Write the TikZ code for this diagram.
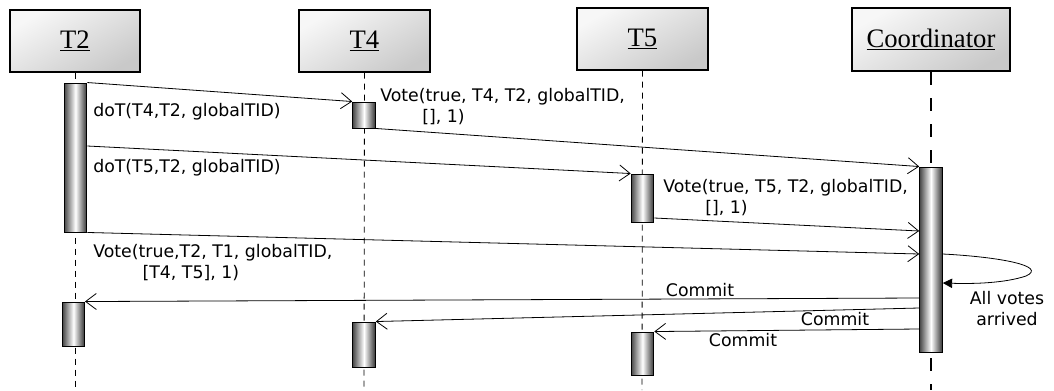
\documentclass[tikz,border=0pt]{standalone}
\usepackage{fontspec}
\setmainfont{Liberation Serif}
\newfontfamily\msgfont{DejaVu Sans}
\usetikzlibrary{arrows.meta,calc}
\begin{document}
\begin{tikzpicture}[x=0.75pt,y=-0.75pt,
  obj/.style={draw, line width=0.8pt, inner sep=0pt, minimum height=46.5pt,
    top color=gray!6, bottom color=gray!42, shading angle=30,
    font=\fontsize{20}{24}\selectfont},
  coord/.style={obj, line width=1.6pt},
  bar/.style={draw, line width=0.7pt, inner sep=0pt, minimum width=17pt,
    left color=black!72, right color=black!80, middle color=white},
  life/.style={line width=0.6pt, dash pattern=on 4.5pt off 3.75pt},
  clife/.style={line width=1.6pt, dash pattern=on 9.5pt off 10pt},
  msg/.style={line width=0.6pt, -{Straight Barb[length=8pt,width=12pt]}},
  lbl/.style={font=\msgfont\fontsize{13}{15.75}\selectfont, inner sep=0pt, align=left},
]
\useasboundingbox (0,0) rectangle (1054,390);

% objects
\node[obj, minimum width=97.5pt] (T2) at (75,41) {\underline{T2}};
\node[obj, minimum width=98.25pt] (T4) at (364.5,41) {\underline{T4}};
\node[obj, minimum width=98.25pt] (T5) at (642.5,39) {\underline{T5}};
\node[coord, minimum width=118.5pt, minimum height=47.25pt] (C) at (931,39.5) {\underline{Coordinator}};

% lifelines end points
\coordinate (T2e) at (75,390);
\coordinate (T4e) at (364,390);
\coordinate (T5e) at (642,390);
\coordinate (Ce) at (931,390);
\draw[life] (T2.south) -- (T2e);
\draw[life] (T4.south) -- (T4e);
\draw[life] (T5.south) -- (T5e);
\draw[clife] (C.south) -- (Ce);

% activation bars
\node[bar, minimum height=111.75pt] (t2a) at (75.5,157.5) {};
\node[bar, minimum height=19.5pt] (t4a) at (364,115) {};
\node[bar, minimum height=36pt] (t5a) at (642.5,198) {};
\node[bar, minimum height=138.75pt] (ca) at (931,259.5) {};
\node[bar, minimum height=33pt, minimum width=16.5pt] (t2b) at (73.5,324) {};
\node[bar, minimum height=33.75pt] (t4b) at (364,344.5) {};
\node[bar, minimum height=32.25pt] (t5b) at (642.5,353.5) {};

% message anchor points
\coordinate (m3s) at (t2a.east |- 0,146);
\coordinate (m4s) at (t5a.east |- 0,218);
\coordinate (m4e) at (ca.west |- 0,231);
\coordinate (m5e) at (ca.west |- 0,254);
\coordinate (ls) at (ca.east |- 0,254);
\coordinate (le) at (ca.east |- 0,283);
\coordinate (c1s) at (ca.west |- 0,298);
\coordinate (c2s) at (ca.west |- 0,308);
\coordinate (c3s) at (ca.west |- 0,329);

% messages
\draw[msg] (t2a.north east) -- (t4a.north west);
\draw[msg] (t4a.south east) -- (ca.north west);
\draw[msg] (m3s) -- (t5a.north west);
\draw[msg] (m4s) -- (m4e);
\draw[msg] (t2a.south east) -- (m5e);
\draw[line width=0.6pt, -{Triangle[length=7pt,width=7pt]}]
  (ls) .. controls (1000,257) and (1048,266) .. (1026,276)
       .. controls (1005,283) and (975,284) .. (le);
\draw[msg] (c1s) -- (t2b.north east);
\draw[msg] (c2s) -- (t4b.north east);
\draw[msg] (c3s) -- (t5b.north east);

% labels
\node[lbl, anchor=west] (l1) at (93,112) {doT(T4,T2, globalTID)};
\node[lbl, anchor=north west] (l2) at (380,88) {Vote(true, T4, T2, globalTID,\\\hspace*{31.5pt}[], 1)};
\node[lbl, anchor=west] (l3) at (93,168) {doT(T5,T2, globalTID)};
\node[lbl, anchor=north west] (l4) at (663,179) {Vote(true, T5, T2, globalTID,\\\hspace*{31.5pt}[], 1)};
\node[lbl, anchor=north west] (l5) at (93,244) {Vote(true,T2, T1, globalTID,\\\hspace*{37pt}[T4, T5], 1)};
\node[lbl, align=center] (l6) at (1007,309) {All votes\\arrived};
\node[lbl] (l7) at (700,290) {Commit};
\node[lbl] (l8) at (835,319) {Commit};
\node[lbl] (l9) at (743,340) {Commit};
\end{tikzpicture}
\end{document}
